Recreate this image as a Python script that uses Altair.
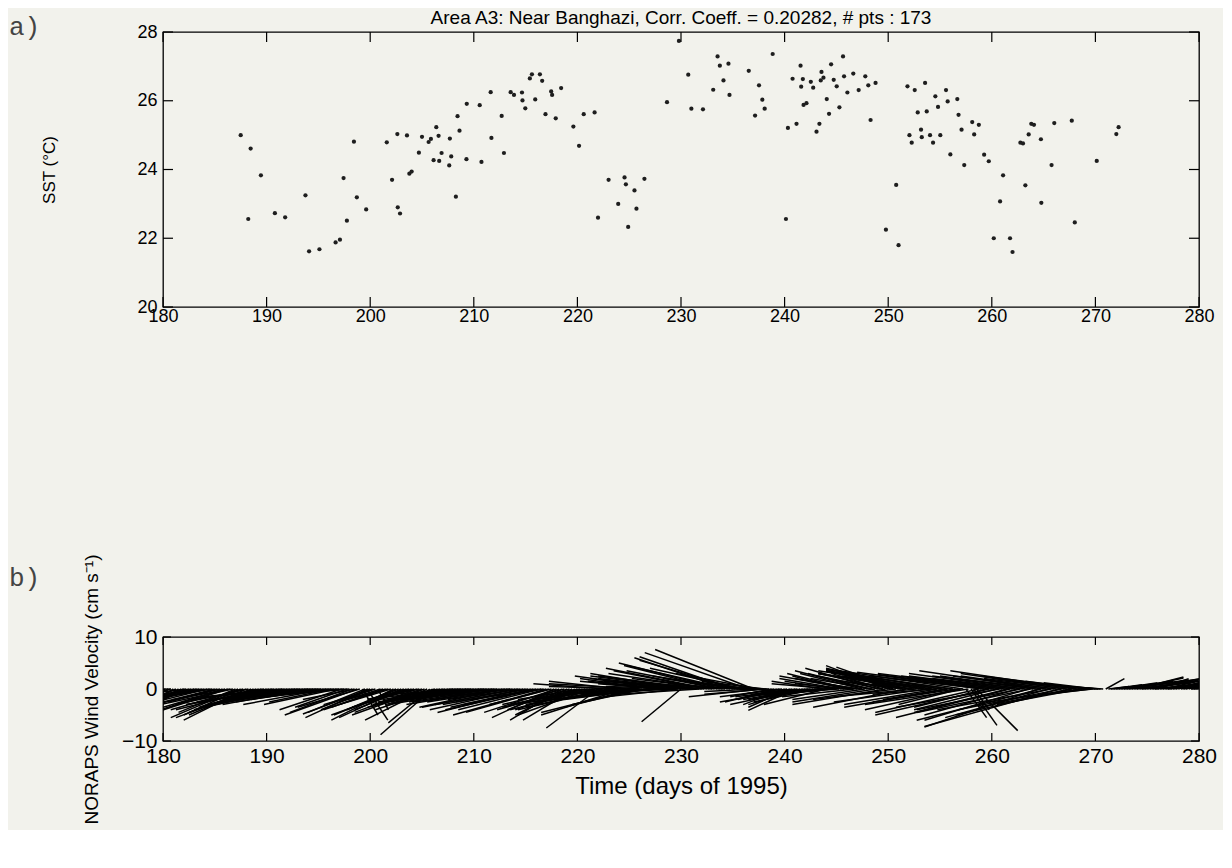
import altair as alt
import pandas as pd

# ---------------- data ----------------
days = [187.5, 188.46, 189.45, 188.23, 190.8, 191.79, 193.75, 194.1, 195.1, 196.66,
        197.08, 197.43, 197.75, 198.43, 198.71, 199.61, 201.6, 202.11, 202.62, 202.66,
        202.88, 203.55, 203.78, 204.0, 204.7,
        205.0, 205.64, 205.86, 206.12, 206.38, 206.6, 206.66, 206.89, 207.63, 207.69,
        207.82, 208.27, 208.43, 208.62, 209.29, 209.32, 210.57, 210.74, 211.63, 211.7,
        212.69, 212.91, 213.56, 213.88, 214.65, 214.7, 214.97, 215.41, 215.61, 215.93,
        216.38, 216.6, 216.92, 217.47, 217.56, 217.91, 218.43, 219.61, 220.16, 220.61,
        221.66, 221.99, 223.01, 223.94, 224.55, 224.68, 224.9, 225.51, 225.7, 226.47,
        228.65,
        229.8, 230.7, 231.0, 232.12, 233.11, 233.53, 233.75, 234.1, 234.58, 234.68,
        236.54, 237.15, 237.53, 237.85, 238.08, 238.85, 240.13, 240.32, 240.77, 241.15,
        241.54, 241.6, 241.76, 241.83, 242.11, 242.53, 242.76, 243.08, 243.36, 243.49,
        243.56, 243.75, 244.07, 244.29, 244.49, 244.74, 245.03, 245.29, 245.64, 245.74,
        246.06, 246.63, 247.15, 247.79, 248.08, 248.3, 248.78, 249.78, 250.77, 251.0,
        251.86, 252.05, 252.27, 252.56, 252.85, 253.17, 253.24, 253.56, 253.72,
        254.04, 254.33, 254.55, 254.81, 255.03, 255.58, 255.74, 256.0, 256.67, 256.79,
        257.08, 257.34, 258.11, 258.3, 258.75, 259.26, 259.71, 260.19, 260.8, 261.09,
        261.76, 262.0, 262.76, 263.01, 263.24, 263.56, 263.81, 264.07, 264.74, 264.78,
        265.77, 266.03, 267.72, 268.01, 270.13, 272.02, 272.24]
sst = [25.0, 24.61, 23.83, 22.56, 22.73, 22.61, 23.25, 21.62, 21.68, 21.88,
       21.96, 23.75, 22.51, 24.81, 23.19, 22.84, 24.79, 23.7, 25.03, 22.9,
       22.72, 24.99, 23.88, 23.94, 24.49,
       24.95, 24.8, 24.89, 24.27, 25.23, 24.98, 24.25, 24.48, 24.12, 24.9,
       24.38, 23.21, 25.55, 25.13, 24.3, 25.91, 25.87, 24.22, 26.25, 24.92,
       25.56, 24.48, 26.25, 26.17, 26.24, 26.01, 25.78, 26.65, 26.77, 26.04,
       26.77, 26.58, 25.61, 26.27, 26.17, 25.49, 26.37, 25.25, 24.69, 25.61,
       25.66, 22.6, 23.7, 23.0, 23.77, 23.57, 22.33, 23.39, 22.86, 23.73,
       25.96,
       27.74, 26.76, 25.77, 25.75, 26.32, 27.29, 27.02, 26.59, 27.08, 26.17,
       26.87, 25.57, 26.45, 26.03, 25.77, 27.36, 22.56, 25.21, 26.64, 25.33,
       27.02, 26.41, 26.63, 25.88, 25.93, 26.55, 26.38, 25.1, 25.33, 26.59,
       26.84, 26.67, 26.05, 25.62, 27.06, 26.61, 26.42, 25.81, 27.29, 26.71,
       26.24, 26.79, 26.31, 26.71, 26.45, 25.44, 26.52, 22.25, 23.55, 21.8,
       26.42, 25.0, 24.78, 26.31, 25.66, 25.16, 24.94, 26.52, 25.69,
       25.0, 24.78, 26.13, 25.82, 25.0, 26.31, 25.98, 24.44, 26.05, 25.59,
       25.16, 24.13, 25.38, 25.02, 25.3, 24.43, 24.24, 22.0, 23.07, 23.83,
       22.0, 21.6, 24.78, 24.76, 23.54, 25.02, 25.33, 25.3, 24.88, 23.03,
       24.13, 25.35, 25.42, 22.46, 24.25, 25.03, 25.23]

# wind sticks (set 1): origin day, horizontal extent (days), vertical component
wind_t = [180.0, 180.5, 181.0, 181.5, 182.0, 182.5, 183.0, 183.5, 184.0, 184.5,
          185.0, 185.5, 186.0, 186.5, 187.0, 187.5, 188.0, 188.5, 189.0, 189.5,
          190.0, 190.5, 191.0, 191.5, 192.0, 192.5, 193.0, 193.5, 194.0, 194.5,
          195.0, 195.5, 196.0, 196.5, 197.0, 197.5, 198.0, 198.5, 199.0, 199.5,
          199.7, 200.0, 200.5, 201.0, 201.5, 202.0, 202.5, 203.0, 203.5, 204.0,
          204.5, 205.0, 205.5, 206.0, 206.5, 207.0, 207.5, 208.0, 208.5, 209.0,
          209.5, 210.0, 210.5, 211.0, 211.5, 212.0, 212.5, 213.0, 213.5, 214.0,
          214.5, 215.0, 215.5, 216.0, 216.5, 217.0, 217.5, 218.0, 218.5, 219.0,
          219.5, 220.0, 220.5, 221.0, 221.5, 222.0, 222.5, 223.0, 223.5, 224.0,
          224.5, 225.0, 225.5, 226.0, 226.5, 227.0, 227.5, 228.0, 228.5, 229.0,
          229.5, 230.0, 230.5, 231.0, 231.5, 232.0, 232.5, 233.0, 233.5, 234.0,
          234.5, 235.0, 235.5, 236.0, 236.5, 237.0, 237.5, 238.0, 238.5, 239.0,
          239.5, 240.0, 240.5, 241.0, 241.5, 242.0, 242.5, 243.0, 243.5, 244.0,
          244.5, 245.0, 245.5, 246.0, 246.5, 247.0, 247.5, 248.0, 248.5, 249.0,
          249.5, 250.0, 250.5, 251.0, 251.5, 252.0, 252.5, 253.0, 253.5, 254.0,
          254.5, 255.0, 255.5, 256.0, 256.5, 257.0, 257.5, 258.0, 258.5, 259.0,
          259.5, 260.0, 260.5, 261.0, 261.5, 262.0, 262.5, 263.0, 263.5, 264.0,
          264.5, 265.0, 265.5, 266.0, 266.5, 267.0, 267.5, 268.0, 268.5, 269.0,
          269.5, 270.0, 270.5, 271.0, 271.5, 272.0, 272.5, 273.0, 273.5, 274.0,
          274.5, 275.0, 275.5, 276.0, 276.5, 277.0, 277.5, 278.0, 278.5, 279.0,
          279.5, 280.0]
wind_dx = [-1.5, -2.5, -3.0, -3.5, -3.0, -2.5, -4.0, -3.0, -5.0, -4.0,
           -6.0, -5.0, -6.0, -5.5, -5.5, -5.5, -6.0, -6.0, -6.5, -6.0,
           -7.0, -6.0, -7.0, -6.0, -8.0, -7.0, -8.0, -7.0, -8.0, -6.0,
           -8.0, -7.0, -7.0, -6.0, -7.0, -8.0, -6.0, -5.0, -6.0, -5.5,
           2.0, -6.5, -5.0, -4.0, -6.0, -5.0, -6.0, -6.0, -5.0, -5.0,
           -6.0, -4.5, -6.0, -5.0, -6.0, -5.0, -6.0, -4.0, -6.0, -5.0,
           -7.0, -6.0, -8.0, -6.0, -8.0, -7.0, -9.0, -7.0, -8.0, -9.0,
           -7.0, -8.0, -9.0, -7.0, -8.0, -9.0, -6.0, -7.0, -5.0, -5.0,
           -4.0, -6.0, -7.0, -6.0, -8.0, -5.0, -7.0, -8.0, -6.0, -9.0,
           -8.0, -7.0, -9.0, -8.0, -7.0, -9.0, -8.0, -6.0, -7.0, -8.0,
           -6.0, -3.8, -8.0, -9.0, -7.0, -10.0, -9.0, -10.0, -9.0, -10.0,
           -9.0, -9.0, -9.5, -9.0, -10.0, -9.5, -8.0, -6.0, -5.0, -3.0,
           -4.0, -4.0, -4.0, -4.5, -5.0, -6.0, -5.0, -6.0, -7.0, -6.0,
           -7.0, -5.0, -6.0, -5.0, -7.0, -6.0, -6.0, -7.0, -6.0, -7.0,
           -5.0, -6.0, -5.5, -6.0, -4.0, -8.0, -7.0, -9.0, -8.0, -10.0,
           -6.0, -11.0, -6.0, -12.0, -8.0, -6.0, 2.0, 2.5, 4.0, -12.0,
           -7.0, -11.0, -8.0, -12.0, -9.0, -10.0, -9.0, -11.0, -10.0, -9.0,
           -11.0, -12.0, -10.0, -9.0, -13.0, -10.0, -11.0, -12.0, -8.0, -10.0,
           -6.0, -5.0, -3.0, 1.8, 3.0, 4.0, 5.0, 6.0, 5.0, 4.5,
           3.0, 4.0, 5.0, 3.0, 3.5, 3.0, 2.5, 2.0, 2.0, 1.5,
           1.0, 1.0]
wind_dy = [-1.5, -2.5, -3.5, -4.5, -2.0, -1.5, -2.5, -1.0, -2.0, -1.5,
           -3.0, -2.5, -3.5, -2.0, -4.5, -5.0, -6.0, -5.0, -4.5, -3.5,
           -4.0, -3.0, -3.5, -2.5, -3.5, -2.5, -3.0, -2.0, -2.5, -1.5,
           -2.5, -2.0, -1.5, -1.0, -1.5, -1.2, -1.0, -2.0, -3.5, -4.5,
           -6.0, -4.8, -3.0, -2.5, -4.0, -3.0, -5.0, -5.5, -4.0, -3.0,
           -4.5, -3.0, -6.0, -8.8, -4.0, -2.5, -3.0, -1.5, -2.0, -1.0,
           -2.0, -1.5, -2.5, -1.0, -2.0, -1.5, -3.0, -2.0, -2.5, -3.5,
           -2.0, -3.0, -4.5, -3.0, -4.0, -5.0, -3.0, -4.5, -6.0, -5.0,
           -3.5, -4.0, -3.0, -2.5, -4.0, -7.5, -2.0, -3.5, -1.5, -3.0,
           -5.0, -2.0, -4.5, -1.0, -3.0, -2.0, -1.5, 1.0, -1.0, 1.5,
           -0.5, -6.3, 1.5, 2.0, 1.0, 2.5, 3.5, 3.0, 4.5, 5.0,
           6.0, 6.2, 5.5, 4.0, 7.0, 7.6, 3.0, 1.5, 0.5, -1.0,
           -2.0, -3.0, -3.5, -4.1, -3.0, -2.0, -1.0, -2.5, -2.0, -3.0,
           -1.5, 1.5, 2.0, 1.0, 2.5, 2.0, 3.0, 3.5, 2.0, 4.0,
           3.0, 4.5, 3.5, 4.2, 1.0, 3.5, 1.5, 4.0, 2.5, 3.5,
           -1.0, 3.8, -2.0, 3.5, -2.5, -3.0, -5.5, -7.0, -8.0, 3.2,
           -3.5, 2.8, -4.0, 3.0, -4.5, 2.5, -5.0, 3.0, -6.0, 2.5,
           -7.3, 3.5, -5.5, 2.5, -7.2, 3.0, -5.0, 3.5, -3.0, 2.5,
           -1.5, 1.2, 0.5, 2.0, 0.8, 1.2, 1.5, 1.8, 2.1, 2.3,
           0.8, 1.5, 1.0, 2.0, 1.5, 1.0, 0.8, 1.2, 0.6, 1.0,
           0.5, 0.3]

# wind sticks (set 2, the intermediate observations)
wind_t2 = [180.25, 180.75, 181.25, 181.75, 182.25, 182.75, 183.25, 183.75, 184.25, 184.75,
           185.25, 185.75, 186.25, 186.75, 187.25, 187.75, 188.25, 188.75, 189.25, 189.75,
           190.25, 190.75, 191.25, 191.75, 192.25, 192.75, 193.25, 193.75, 194.25, 194.75,
           195.25, 195.75, 196.25, 196.75, 197.25, 197.75, 198.25, 198.75, 199.25, 199.75,
           200.25, 200.75, 201.25, 201.75, 202.25, 202.75, 203.25, 203.75, 204.25, 204.75,
           205.25, 205.75, 206.25, 206.75, 207.25, 207.75, 208.25, 208.75, 209.25, 209.75,
           210.25, 210.75, 211.25, 211.75, 212.25, 212.75, 213.25, 213.75, 214.25, 214.75,
           215.25, 215.75, 216.25, 216.75, 217.25, 217.75, 218.25, 218.75, 219.25, 219.75,
           220.25, 220.75, 221.25, 221.75, 222.25, 222.75, 223.25, 223.75, 224.25, 224.75,
           225.25, 225.75, 226.25, 226.75, 227.25, 227.75, 228.25, 228.75, 229.25, 229.75,
           230.25, 230.75, 231.25, 231.75, 232.25, 232.75, 233.25, 233.75, 234.25, 234.75,
           235.25, 235.75, 236.25, 236.75, 237.25, 237.75, 238.25, 238.75, 239.25, 239.75,
           240.25, 240.75, 241.25, 241.75, 242.25, 242.75, 243.25, 243.75, 244.25, 244.75,
           245.25, 245.75, 246.25, 246.75, 247.25, 247.75, 248.25, 248.75, 249.25, 249.75,
           250.25, 250.75, 251.25, 251.75, 252.25, 252.75, 253.25, 253.75, 254.25, 254.75,
           255.25, 255.75, 256.25, 256.75, 257.25, 257.75, 258.25, 258.75, 259.25, 259.75,
           260.25, 260.75, 261.25, 261.75, 262.25, 262.75, 263.25, 263.75, 264.25, 264.75,
           265.25, 265.75, 266.25, 266.75, 267.25, 267.75, 268.25, 268.75, 269.25, 269.75,
           270.25, 270.75, 271.25, 271.75, 272.25, 272.75, 273.25, 273.75, 274.25, 274.75,
           275.25, 275.75, 276.25, 276.75, 277.25, 277.75, 278.25, 278.75, 279.25, 279.75]
wind_dx2 = [-2.0, -3.0, -3.5, -4.0, -4.0, -5.0, -5.0, -6.0, -6.0, -7.0,
            -7.0, -6.0, -7.0, -7.0, -6.5, -7.0, -7.0, -7.5, -8.0, -7.0,
            -8.0, -8.0, -9.0, -8.0, -9.0, -8.0, -9.0, -8.0, -7.0, -9.0,
            -7.0, -8.0, -6.0, -7.0, -6.0, -5.0, -6.0, -7.0, 1.5, -6.0,
            -5.0, 1.0, -5.0, -4.0, -6.0, -5.0, -7.0, -4.0, -6.0, -5.0,
            -7.0, -4.0, -6.0, -7.0, -6.0, -7.0, -6.0, -7.0, -8.0, -6.0,
            -7.0, -9.0, -7.0, -8.0, -9.0, -8.0, -9.0, -7.0, -8.0, -9.0,
            -7.0, -8.0, -9.0, -7.0, -8.0, -6.0, -5.0, -6.0, -7.0, -5.0,
            -6.0, -8.0, -7.0, -6.0, -8.0, -7.0, -9.0, -8.0, -7.0, -9.0,
            -8.0, -7.0, -9.0, -8.0, -7.0, -9.0, -8.0, -9.0, -8.0, -7.0,
            -9.0, -8.0, -10.0, -8.0, -9.0, -10.0, -8.0, -9.0, -7.0, -10.0,
            -8.0, -7.0, -8.0, -6.0, -5.0, -7.0, -6.0, -4.0, -5.0, -6.0,
            -5.0, -7.0, -6.0, -7.0, -5.0, -6.0, -7.0, -5.0, -6.0, -6.0,
            -7.0, -5.0, -6.0, -7.0, -5.0, -7.0, -6.0, -8.0, -6.0, -9.0,
            -7.0, -8.0, -7.0, -9.0, -9.0, -8.0, -10.0, -9.0, -11.0, -9.0,
            -10.0, -10.0, -11.0, -9.0, -12.0, -10.0, 1.5, -10.0, -11.0, -11.0,
            -10.0, -10.0, -9.0, -11.0, -11.0, -10.0, -9.0, -11.0, -10.0, -12.0,
            -9.0, -11.0, -10.0, -10.0, -8.0, -9.0, -8.0, -9.0, -6.0, -5.0,
            -3.0, -1.5, 2.0, 4.0, 5.0, 6.0, 7.0, 6.0, 5.0, 6.0,
            5.0, 4.0, 4.0, 3.0, 3.5, 3.0, 2.5, 2.0, 1.5, 1.0]
wind_dy2 = [-1.0, -2.0, -3.0, -5.0, -1.0, -2.0, -1.5, -2.5, -3.0, -2.0,
            -3.5, -4.0, -4.5, -3.0, -5.5, -4.0, -3.0, -5.5, -4.0, -2.0,
            -3.0, -2.0, -3.0, -1.5, -2.5, -2.0, -1.5, -3.0, -1.0, -2.0,
            -1.0, -3.0, -2.5, -3.0, -4.0, -3.5, -4.5, -5.0, -5.0, -5.5,
            -4.0, -4.0, -3.5, -2.0, -6.0, -4.0, -5.0, -2.0, -3.5, -2.0,
            -5.0, -6.5, -3.0, -3.5, -2.0, -2.5, -1.0, -1.5, -2.5, -1.0,
            -2.0, -3.0, -1.5, -2.5, -2.0, -3.5, -2.5, -1.5, -3.0, -4.0,
            -2.5, -3.5, -4.0, -2.0, -4.5, -5.5, -4.0, -3.0, -4.0, -6.0,
            -2.0, -3.5, -5.0, -2.0, -3.0, 1.0, -4.0, -2.0, 1.5, -2.5,
            0.5, -3.5, 1.0, -2.0, 2.0, -1.0, 1.5, 2.5, 2.0, -1.5,
            3.0, 0.5, 2.5, -1.0, 1.5, 4.0, 2.0, 3.5, 1.0, 4.5,
            2.5, 1.0, 2.0, 1.5, -0.5, -1.5, -1.0, -1.5, -2.5, -1.5,
            -2.0, -2.5, -1.5, -3.0, -2.0, -1.0, -1.5, 1.5, -0.5, 1.0,
            -1.0, 2.5, 3.0, -1.5, 1.5, -2.0, 3.0, -2.5, 2.5, -3.0,
            3.0, -2.0, 3.5, -3.5, 3.0, -1.5, 3.0, -2.5, 3.5, -3.0,
            2.5, -3.5, 3.0, -4.0, 3.5, -3.0, -4.0, -4.5, 2.5, -5.0,
            2.0, -3.5, 2.0, -5.5, 2.5, -4.0, 2.0, -4.5, 2.5, -6.0,
            2.0, -4.0, 2.5, -4.0, 2.0, -3.5, 2.0, -2.5, 1.5, -1.0,
            0.5, 0.2, 0.5, 1.0, 1.3, 1.6, 2.0, 1.5, 1.2, 2.2,
            1.8, 0.8, 1.2, 0.6, 1.3, 1.6, 0.9, 1.4, 0.7, 1.0]

x_ticks = [180, 190, 200, 210, 220, 230, 240, 250, 260, 270, 280]
sst_ticks = [20, 22, 24, 26, 28]
wind_ticks = [-10, 0, 10]
panel_labels = ["a)", "b)"]

title_text = "Area A3: Near Banghazi, Corr. Coeff. = 0.20282, # pts : 173"
sst_title = "SST (°C)"
wind_title = "NORAPS Wind Velocity (cm s⁻¹)"
time_title = "Time (days of 1995)"

# ---------------- layout ----------------
BG = "#f2f2ec"
FONT = "Liberation Sans"
W = 1036
H1 = 275
H2 = 104
LBL1 = 18
LBL2 = 21

pts = pd.DataFrame({"day": days, "sst": sst})
wind = pd.concat([
    pd.DataFrame({"t": wind_t, "dx": wind_dx, "dy": wind_dy}),
    pd.DataFrame({"t": wind_t2, "dx": wind_dx2, "dy": wind_dy2}),
], ignore_index=True)
wind["te"] = wind["t"] + wind["dx"]
wind["zero"] = 0.0
xt = pd.DataFrame({"x": x_ticks})
st = pd.DataFrame({"y": sst_ticks})
wt = pd.DataFrame({"y": wind_ticks})

xscale = alt.Scale(domain=[180, 280], nice=False, zero=False)
s_scale = alt.Scale(domain=[20, 28], nice=False, zero=False)
w_scale = alt.Scale(domain=[-10, 10], nice=False, zero=False)


def x_axis(size, pad, title=None, title_y=None, title_size=None):
    kw = dict(values=x_ticks, ticks=False, domain=False, grid=False,
              labelFont=FONT, labelFontSize=size, labelColor="black",
              labelPadding=pad, labelFlush=False, format="d")
    if title:
        kw.update(title=title, titleFont=FONT, titleFontSize=title_size,
                  titleFontWeight="normal", titleColor="black",
                  titleY=title_y, titleBaseline="middle")
    else:
        kw.update(title=None)
    return alt.Axis(**kw)


def y_axis(values, size, title, title_size, title_x, title_y):
    return alt.Axis(values=values, ticks=False, domain=False, grid=False,
                    labelFont=FONT, labelFontSize=size, labelColor="black",
                    labelPadding=6, labelFlush=False, format="d",
                    title=title, titleFont=FONT, titleFontSize=title_size,
                    titleFontWeight="normal", titleColor="black",
                    titleX=title_x, titleY=title_y, titleAngle=270,
                    titleAlign="center", titleBaseline="middle")


def inner_ticks(h, w, ylist_df, yscale, tlen, xax, yax):
    base_x = alt.Chart(xt).mark_rule(color="black", strokeWidth=1.2)
    bx = base_x.encode(x=alt.X("x:Q", scale=xscale, axis=xax),
                       y=alt.value(h), y2=alt.value(h - tlen))
    tx = base_x.encode(x=alt.X("x:Q", scale=xscale, axis=xax),
                       y=alt.value(0), y2=alt.value(tlen))
    base_y = alt.Chart(ylist_df).mark_rule(color="black", strokeWidth=1.2)
    ly = base_y.encode(y=alt.Y("y:Q", scale=yscale, axis=yax),
                       x=alt.value(0), x2=alt.value(tlen))
    ry = base_y.encode(y=alt.Y("y:Q", scale=yscale, axis=yax),
                       x=alt.value(w), x2=alt.value(w - tlen))
    return [bx, tx, ly, ry]


# ---------------- top panel ----------------
top_x = x_axis(LBL1, 0)
top_y = y_axis(sst_ticks, LBL1, sst_title, 17, -114, H1 / 2)
points = alt.Chart(pts).mark_point(filled=True, size=18, color="#1e1e1e",
                                   opacity=1, shape="circle").encode(
    x=alt.X("day:Q", scale=xscale, axis=top_x),
    y=alt.Y("sst:Q", scale=s_scale, axis=top_y),
)
lab_a = alt.Chart(pd.DataFrame({"lab": [panel_labels[0]]})).mark_text(
    align="left", baseline="middle", font="Liberation Mono", fontSize=26,
    color="#444444").encode(text="lab:N", x=alt.value(-154), y=alt.value(-5))
title = alt.Chart(pd.DataFrame({"ttl": [title_text]})).mark_text(
    align="center", baseline="middle", font=FONT, fontSize=19,
    color="black").encode(text="ttl:N", x=alt.value(W / 2), y=alt.value(-14))

top = alt.layer(points, *inner_ticks(H1, W, st, s_scale, 10, top_x, top_y),
                lab_a, title).properties(width=W, height=H1)

# ---------------- bottom panel ----------------
bot_x = x_axis(LBL2, 4, time_title, 45, 24)
bot_y = y_axis(wind_ticks, LBL2, wind_title, 19, -72, H2 / 2)
sticks = alt.Chart(wind).mark_rule(color="black", strokeWidth=1.5,
                                   clip=True).encode(
    x=alt.X("t:Q", scale=xscale, axis=bot_x),
    x2="te:Q",
    y=alt.Y("zero:Q", scale=w_scale, axis=bot_y),
    y2="dy:Q",
)
lab_b = alt.Chart(pd.DataFrame({"lab": [panel_labels[1]]})).mark_text(
    align="left", baseline="middle", font="Liberation Mono", fontSize=26,
    color="#444444").encode(text="lab:N", x=alt.value(-154), y=alt.value(-59))

bottom = alt.layer(sticks, *inner_ticks(H2, W, wt, w_scale, 8, bot_x, bot_y),
                   lab_b).properties(width=W, height=H2)

chart = alt.vconcat(top, bottom, spacing=330, bounds="flush").properties(
    background=BG,
    padding={"left": 0, "top": 0, "right": 5, "bottom": 5},
).configure_view(stroke="black", strokeWidth=1.3)

chart.save("out.html", embed_options={"renderer": "svg", "actions": False})
